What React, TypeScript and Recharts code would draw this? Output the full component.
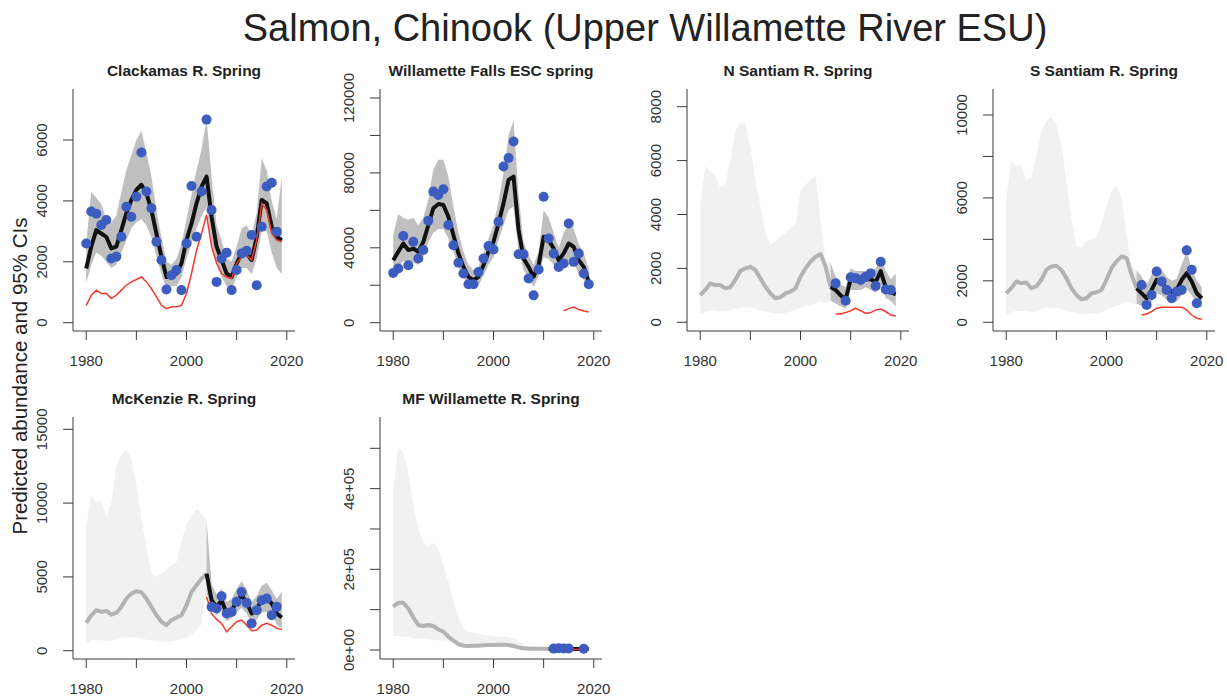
import React from 'react';
import { ComposedChart, Area, Line, Scatter, XAxis, YAxis } from 'recharts';

const years = [
  1980, 1981, 1982, 1983, 1984, 1985, 1986, 1987, 1988, 1989,
  1990, 1991, 1992, 1993, 1994, 1995, 1996, 1997, 1998, 1999,
  2000, 2001, 2002, 2003, 2004, 2005, 2006, 2007, 2008, 2009,
  2010, 2011, 2012, 2013, 2014, 2015, 2016, 2017, 2018, 2019,
];
const xTicks = [1980, 1990, 2000, 2010, 2020];
const xLabelled = [1980, 2000, 2020];

// Clackamas R. Spring
const clackEst = [1780, 2500, 3040, 2930, 2820, 2440, 2500, 3040, 3600, 4030, 4360, 4530, 4250, 3700, 2930, 2160, 1500, 1560, 1615, 1950, 2710, 3260, 3920, 4470, 4800, 3480, 2500, 2060, 1615, 1500, 1950, 2270, 2270, 2060, 2820, 4030, 3920, 3150, 2820, 2710];
const clackHi = [2600, 4300, 4100, 3900, 3400, 3300, 3500, 4300, 5000, 5500, 6000, 6300, 5600, 4800, 3700, 2800, 2000, 1900, 2100, 2600, 3400, 4200, 5000, 5700, 6700, 4800, 3200, 2700, 2100, 2000, 2500, 3100, 3200, 2900, 3600, 5400, 5000, 4000, 3400, 4800];
const clackLo = [1300, 1900, 2300, 2200, 2000, 1800, 1900, 2300, 2700, 3100, 3300, 3400, 3200, 2800, 2200, 1600, 1100, 1200, 1200, 1500, 2100, 2600, 3100, 3500, 3800, 2600, 1900, 1500, 1200, 1100, 1500, 1800, 1800, 1600, 2100, 3000, 3000, 2300, 1800, 1600];
const clackRedStart = 1980;
const clackRed = [570, 900, 1070, 960, 960, 790, 900, 1070, 1230, 1340, 1420, 1500, 1340, 1120, 850, 570, 460, 520, 520, 570, 960, 1615, 2380, 2930, 3540, 2500, 1950, 1615, 1500, 1450, 1950, 2160, 2220, 2060, 2710, 3920, 3700, 2930, 2710, 2660];
const clackObsStart = 1980;
const clackObs = [2600, 3650, 3580, 3210, 3370, 2110, 2170, 2820, 3810, 3480, 4140, 5590, 4310, 3760, 2660, 2060, 1090, 1560, 1730, 1070, 2600, 4490, 2820, 4310, 6670, 3700, 1340, 2110, 2300, 1070, 1730, 2270, 2360, 2880, 1230, 3150, 4470, 4600, 2990];

// Willamette Falls ESC spring
const wfEst = [33400, 37900, 42300, 38800, 39600, 37900, 43200, 52200, 61100, 63400, 62900, 56600, 46800, 37000, 29800, 24500, 22700, 24500, 30700, 37900, 43200, 53000, 63800, 76300, 78000, 49500, 34300, 29800, 24500, 30700, 45900, 44100, 39600, 33400, 37000, 42300, 40500, 33400, 29800, 21800];
const wfHi = [47000, 58000, 56000, 55000, 56000, 52000, 56000, 66000, 82000, 87000, 87000, 78000, 62000, 48000, 38000, 31000, 28000, 30000, 37000, 45000, 52000, 65000, 80000, 100000, 108000, 68000, 43000, 36000, 31000, 38000, 60000, 56000, 48000, 40000, 48000, 53000, 50000, 42000, 37000, 29000];
const wfLo = [28000, 30000, 33000, 32000, 32000, 31000, 35000, 43000, 48000, 50000, 50000, 45000, 38000, 30000, 24000, 20000, 18000, 20000, 25000, 31000, 35000, 44000, 52000, 60000, 62000, 38000, 28000, 24000, 19000, 25000, 35000, 34000, 31000, 27000, 30000, 33000, 32000, 26000, 23000, 17000];
const wfRedStart = 2014;
const wfRed = [6300, 7500, 8400, 7000, 6300, 5700];
const wfObsStart = 1980;
const wfObs = [26600, 28900, 46300, 30700, 43200, 34300, 38800, 54500, 70000, 68200, 71300, 52200, 41400, 32000, 26300, 20500, 20500, 27100, 34300, 40900, 39100, 53900, 83400, 87900, 96800, 36600, 36600, 23600, 14600, 28400, 67300, 45000, 37000, 29800, 31600, 53000, 32500, 37000, 26300, 20500];

// N Santiam R. Spring
const nsEst = [1010, 1200, 1440, 1380, 1380, 1260, 1300, 1570, 1910, 2000, 2060, 1940, 1630, 1320, 1070, 890, 930, 1070, 1140, 1260, 1690, 2000, 2250, 2430, 2530, 2060, 1320, 1200, 1000, 850, 1600, 1600, 1550, 1600, 1600, 1500, 1900, 1300, 1100, 1050];
const nsHi = [4300, 5800, 5600, 5400, 5000, 5100, 6000, 7100, 7400, 7400, 6500, 5300, 4300, 3300, 2900, 3000, 3200, 3300, 3500, 3600, 4900, 5100, 5300, 5450, 3800, 2300, 2200, 1700, 1400, 1300, 2000, 1900, 1900, 1900, 1900, 2000, 2400, 1900, 1600, 1800];
const nsLo = [300, 400, 450, 450, 400, 400, 450, 500, 550, 550, 550, 500, 450, 400, 350, 330, 330, 350, 400, 450, 550, 600, 650, 700, 800, 700, 800, 700, 600, 500, 1200, 1200, 1200, 1300, 1200, 1100, 1400, 900, 800, 600];
const nsSplit = 2006;
const nsRedStart = 2007;
const nsRed = [310, 310, 360, 430, 520, 430, 330, 360, 460, 490, 400, 270, 230];
const nsObsStart = 2007;
const nsObs = [1445, null, 800, 1670, 1630, 1570, 1690, 1815, 1350, 2250, 1220, 1200];

// S Santiam R. Spring
const ssEst = [1400, 1650, 1970, 1890, 1920, 1650, 1730, 2050, 2530, 2690, 2730, 2530, 2130, 1650, 1320, 1110, 1160, 1400, 1450, 1560, 2050, 2610, 2940, 3180, 3100, 2290, 1650, 1400, 1160, 1560, 2050, 1890, 1650, 1480, 1560, 2050, 2370, 1970, 1400, 1160];
const ssHi = [5900, 7800, 7500, 7600, 6800, 7000, 8000, 9200, 9700, 9900, 9500, 8500, 6800, 5000, 3700, 3600, 3900, 4000, 4100, 4700, 5600, 6300, 6600, 6000, 4200, 2700, 2500, 2200, 1800, 2300, 2700, 2500, 2200, 2000, 2100, 2800, 3400, 2600, 2000, 1700];
const ssLo = [400, 500, 550, 550, 550, 500, 550, 650, 700, 700, 700, 650, 550, 500, 450, 400, 400, 420, 450, 500, 600, 700, 800, 900, 1000, 900, 900, 800, 600, 1000, 1400, 1300, 1100, 1000, 1000, 1300, 1600, 1300, 900, 700];
const ssSplit = 2006;
const ssRedStart = 2007;
const ssRed = [350, 400, 520, 680, 730, 730, 730, 730, 730, 600, 350, 190, 150];
const ssObsStart = 2007;
const ssObs = [1800, 840, 1320, 2450, 1970, 1560, 1160, 1480, 1560, 3470, 2530, 920];

// McKenzie R. Spring
const mkEst = [1890, 2400, 2750, 2630, 2700, 2450, 2560, 2970, 3530, 3870, 4030, 3960, 3530, 2970, 2400, 1960, 1730, 2070, 2250, 2400, 3080, 3980, 4430, 4880, 5220, 3420, 2970, 3420, 2520, 2750, 3310, 3760, 3240, 2520, 2860, 3420, 3530, 3200, 2520, 2250];
const mkHi = [8400, 10500, 10000, 10200, 9100, 10000, 12500, 13300, 13600, 13000, 11200, 9000, 7000, 5200, 5000, 5200, 5500, 5800, 6000, 7400, 8600, 9100, 9600, 9300, 8800, 4500, 3800, 4200, 3300, 3500, 4200, 4700, 4100, 3300, 3700, 4400, 4600, 4100, 3500, 4000];
const mkLo = [500, 700, 700, 700, 650, 700, 800, 900, 900, 900, 900, 850, 750, 700, 650, 600, 600, 620, 700, 800, 900, 1100, 1400, 1800, 4000, 2800, 2400, 2800, 2000, 2200, 2600, 2900, 2500, 1900, 2100, 2600, 2600, 2400, 1800, 1500];
const mkSplit = 2004;
const mkRedStart = 2004;
const mkRed = [3650, 2520, 2120, 1850, 1280, 1620, 1960, 2070, 1730, 1350, 1400, 1730, 1850, 1730, 1510, 1440];
const mkObsStart = 2005;
const mkObs = [2970, 2860, 3690, 2520, 2630, 3310, 3980, 3240, 1850, 2750, 3420, 3530, 2410, 2970];

// MF Willamette R. Spring
const mfEst = [107400, 117300, 117300, 103000, 81000, 62000, 59500, 62000, 59500, 51200, 45400, 33000, 23100, 14900, 10700, 9900, 10700, 10700, 11600, 12400, 12400, 13200, 13200, 12400, 9900, 6600, 4100, 3300, 3300, 3300, 3300, 2500, 2500, 2600, 2700, 2600, 2500, 2400, 2500, 2600];
const mfHi = [400000, 500000, 490000, 440000, 360000, 300000, 265000, 260000, 265000, 250000, 210000, 170000, 120000, 80000, 55000, 45000, 42000, 40000, 38000, 36000, 34000, 33000, 33000, 32000, 28000, 22000, 15000, 10000, 8000, 8000, 7000, 6000, 5500, 5500, 5500, 5500, 5500, 5500, 5500, 5500];
const mfLo = [35000, 35000, 33000, 32000, 30000, 28000, 27000, 26000, 25000, 24000, 23000, 22000, 20000, 18000, 15000, 12000, 10000, 9000, 8000, 8000, 7000, 7000, 7000, 7000, 6000, 5000, 3000, 2000, 1500, 1500, 1200, 1000, 1000, 1000, 1000, 1000, 1000, 1000, 1000, 1000];
const mfSplit = 2011;
const mfRedStart = 2011;
const mfRed = [1500, 1500, 1600, 1700, 1600, 1500, 1500, 1600, 1500];
const mfObsStart = 2012;
const mfObs = [3500, 4500, 4000, 3800, null, null, 3000];

const FONT = '"Liberation Sans", Arial, Helvetica, sans-serif';
const COL_W = 306.75;
const ROW_TOP = [60, 388];

type PanelDef = {
  title: string;
  est: number[];
  hi: number[];
  lo: number[];
  split: number;
  redStart: number;
  red: number[];
  obsStart: number;
  obs: (number | null)[];
  domain: [number, number];
  yTicks: number[];
  yLabelled: number[];
  fmt: (v: number) => string;
  col: number;
  row: number;
};

const plain = (v: number) => String(v);
const sci = (v: number) => (v === 0 ? '0e+00' : `${v / 100000}e+05`);

const panels: PanelDef[] = [
  { title: 'Clackamas R. Spring', est: clackEst, hi: clackHi, lo: clackLo, split: 1979, redStart: clackRedStart, red: clackRed, obsStart: clackObsStart, obs: clackObs, domain: [-273, 7675], yTicks: [0, 2000, 4000, 6000], yLabelled: [0, 2000, 4000, 6000], fmt: plain, col: 0, row: 0 },
  { title: 'Willamette Falls ESC spring', est: wfEst, hi: wfHi, lo: wfLo, split: 1979, redStart: wfRedStart, red: wfRed, obsStart: wfObsStart, obs: wfObs, domain: [-4430, 124800], yTicks: [0, 20000, 40000, 60000, 80000, 100000, 120000], yLabelled: [0, 40000, 80000, 120000], fmt: plain, col: 1, row: 0 },
  { title: 'N Santiam R. Spring', est: nsEst, hi: nsHi, lo: nsLo, split: nsSplit, redStart: nsRedStart, red: nsRed, obsStart: nsObsStart, obs: nsObs, domain: [-323, 8657], yTicks: [0, 2000, 4000, 6000, 8000], yLabelled: [0, 2000, 4000, 6000, 8000], fmt: plain, col: 2, row: 0 },
  { title: 'S Santiam R. Spring', est: ssEst, hi: ssHi, lo: ssLo, split: ssSplit, redStart: ssRedStart, red: ssRed, obsStart: ssObsStart, obs: ssObs, domain: [-420, 11254], yTicks: [0, 2000, 4000, 6000, 8000, 10000], yLabelled: [0, 2000, 6000, 10000], fmt: plain, col: 3, row: 0 },
  { title: 'McKenzie R. Spring', est: mkEst, hi: mkHi, lo: mkLo, split: mkSplit, redStart: mkRedStart, red: mkRed, obsStart: mkObsStart, obs: mkObs, domain: [-562, 15833], yTicks: [0, 5000, 10000, 15000], yLabelled: [0, 5000, 10000, 15000], fmt: plain, col: 0, row: 1 },
  { title: 'MF Willamette R. Spring', est: mfEst, hi: mfHi, lo: mfLo, split: mfSplit, redStart: mfRedStart, red: mfRed, obsStart: mfObsStart, obs: mfObs, domain: [-22300, 577600], yTicks: [0, 100000, 200000, 300000, 400000, 500000], yLabelled: [0, 200000, 400000], fmt: sci, col: 1, row: 1 },
];

function buildRows(p: PanelDef) {
  return years.map((year, i) => {
    const r = year >= p.redStart ? p.red[year - p.redStart] : undefined;
    return {
      year,
      estL: year <= p.split ? p.est[i] : null,
      estD: year >= p.split ? p.est[i] : null,
      bandL: year <= p.split ? [p.lo[i], p.hi[i]] : null,
      bandD: year >= p.split ? [p.lo[i], p.hi[i]] : null,
      red: r === undefined ? null : r,
    };
  });
}

function buildObs(p: PanelDef) {
  return p.obs
    .map((v, i) => ({ year: p.obsStart + i, obs: v }))
    .filter((d) => d.obs !== null && d.obs !== undefined);
}

const AXIS = '#3a3a3a';

function Panel({ p }: { p: PanelDef }) {
  const rows = buildRows(p);
  const obs = buildObs(p);
  const left = Math.round(p.col * COL_W);
  const top = ROW_TOP[p.row];

  const yTick = (props: any) => {
    const { x, y, payload } = props;
    if (!p.yLabelled.includes(payload.value)) return <g />;
    const tx = x - 14;
    return (
      <text x={tx} y={y} transform={`rotate(-90, ${tx}, ${y})`} textAnchor="middle" fontSize={15} fill="#333" fontFamily={FONT}>
        {p.fmt(payload.value)}
      </text>
    );
  };

  const xTick = (props: any) => {
    const { x, y, payload } = props;
    if (!xLabelled.includes(payload.value)) return <g />;
    return (
      <text x={x} y={y + 24} textAnchor="middle" fontSize={15} fill="#333" fontFamily={FONT}>
        {payload.value}
      </text>
    );
  };

  return (
    <div style={{ position: 'absolute', left, top, width: 307, height: 311 }}>
      <div
        style={{
          position: 'absolute',
          left: 73,
          width: 222,
          top: 2,
          textAlign: 'center',
          fontFamily: FONT,
          fontWeight: 700,
          fontSize: 15.5,
          lineHeight: '18px',
          color: '#222',
          whiteSpace: 'nowrap',
        }}
      >
        {p.title}
      </div>
      <ComposedChart width={307} height={311} data={rows} margin={{ top: 29, right: 12, bottom: 0, left: 0 }}>
        <XAxis
          dataKey="year"
          type="number"
          domain={[1977.36, 2021.64]}
          ticks={xTicks}
          interval={0}
          allowDataOverflow
          height={40}
          tickSize={9}
          tick={xTick}
          axisLine={{ stroke: AXIS }}
          tickLine={{ stroke: AXIS }}
        />
        <YAxis
          type="number"
          domain={p.domain}
          ticks={p.yTicks}
          interval={0}
          allowDataOverflow
          width={73}
          tickSize={10}
          tick={yTick}
          axisLine={{ stroke: AXIS }}
          tickLine={{ stroke: AXIS }}
        />
        <Area dataKey="bandL" stroke="none" fill="#f1f1f1" fillOpacity={1} isAnimationActive={false} connectNulls={false} dot={false} activeDot={false} />
        <Area dataKey="bandD" stroke="none" fill="#bfbfbf" fillOpacity={1} isAnimationActive={false} connectNulls={false} dot={false} activeDot={false} />
        <Line dataKey="estL" stroke="#b3b3b3" strokeWidth={4} dot={false} activeDot={false} isAnimationActive={false} strokeLinejoin="round" />
        <Line dataKey="estD" stroke="#111111" strokeWidth={4} dot={false} activeDot={false} isAnimationActive={false} strokeLinejoin="round" />
        <Scatter
          data={obs}
          dataKey="obs"
          isAnimationActive={false}
          shape={(s: any) => <circle cx={s.cx} cy={s.cy} r={5} fill="#3d5cc0" />}
        />
        <Line dataKey="red" stroke="#f2392b" strokeWidth={1.5} dot={false} activeDot={false} isAnimationActive={false} />
      </ComposedChart>
    </div>
  );
}

export default function App() {
  return (
    <div style={{ position: 'absolute', left: 0, top: 0, width: 1227, height: 698, background: '#fff', overflow: 'hidden' }}>
      <div
        style={{
          position: 'absolute',
          left: 0,
          width: 1290,
          top: 6,
          textAlign: 'center',
          fontFamily: FONT,
          fontSize: 38,
          lineHeight: '44px',
          color: '#222',
          whiteSpace: 'nowrap',
        }}
      >
        Salmon, Chinook (Upper Willamette River ESU)
      </div>
      <svg style={{ position: 'absolute', left: 0, top: 0 }} width={40} height={698}>
        <text
          x={27}
          y={376}
          transform="rotate(-90, 27, 376)"
          textAnchor="middle"
          fontSize={20.5}
          fill="#222"
          fontFamily={FONT}
        >
          Predicted abundance and 95% CIs
        </text>
      </svg>
      {panels.map((p) => (
        <Panel key={p.title} p={p} />
      ))}
    </div>
  );
}
